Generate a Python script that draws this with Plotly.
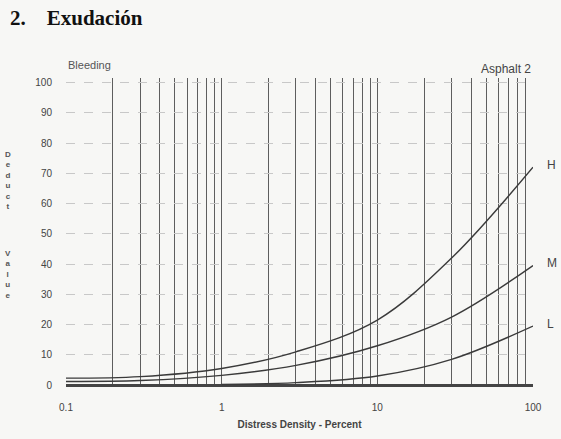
import plotly.graph_objects as go

# ---- data ----
density_hm = [0.1, 0.3, 1, 3, 10, 30, 100]
high = [2.3, 2.8, 5.5, 11.0, 21.5, 42.0, 72.0]
medium = [1.2, 1.5, 3.2, 6.5, 13.0, 22.5, 39.5]
density_l = [1, 3, 10, 30, 100]
low = [0.2, 0.8, 3.0, 8.5, 19.5]

severity_labels = ["H", "M", "L"]
severity_end = [72.0, 39.5, 19.5]

decades = [0.1, 1, 10]
decade_vals = [0.1, 1, 10, 100]
decade_labels = ["0.1", "1", "10", "100"]
y_ticks = list(range(0, 101, 10))

grid_x = [round(d * k, 3) for d in decades for k in range(1, 10)] + [100]
grid_text = [decade_labels[decade_vals.index(v)] if v in decade_vals else "" for v in grid_x]

line_col = "#3a3a3a"
text_col = "#444444"
bg = "#f7f7f5"

fig = go.Figure()
for xs, ys in [(density_hm, high), (density_hm, medium), (density_l, low)]:
    fig.add_trace(go.Scatter(x=xs, y=ys, mode="lines",
                             line=dict(color=line_col, width=1.4, shape="spline", smoothing=1.0),
                             hoverinfo="skip"))

fig.update_layout(
    width=561, height=439,
    margin=dict(l=66, r=28, t=78, b=53),
    paper_bgcolor=bg, plot_bgcolor=bg,
    showlegend=False,
    font=dict(family="Liberation Sans, Arial", color=text_col),
    xaxis=dict(
        type="log", range=[-1, 2],
        tickmode="array", tickvals=grid_x, ticktext=grid_text,
        showgrid=True, gridcolor="#5e5e5e", gridwidth=1.1,
        ticks="", showline=False, zeroline=False,
        tickfont=dict(size=10, color=text_col),
        ticklabelstandoff=14,
        title=dict(text="<b>Distress Density - Percent</b>", font=dict(size=10, color=text_col), standoff=8),
    ),
    yaxis=dict(
        range=[-0.3, 101.5],
        tickmode="array", tickvals=y_ticks,
        showgrid=True, gridcolor="#c8c8c8", gridwidth=1, griddash="dash",
        zeroline=True, zerolinecolor="#444444", zerolinewidth=2.5,
        ticks="", showline=False,
        tickfont=dict(size=10, color=text_col),
        ticklabelstandoff=13,
    ),
)

plot_top, plot_h, plot_left, plot_w = 78, 439 - 78 - 53, 66, 561 - 66 - 28
def ypaper(px):
    return 1 - (px - plot_top) / plot_h
def xpaper(px):
    return (px - plot_left) / plot_w

annotations = []
annotations.append(dict(text="<b>2.    Exudación</b>", xref="paper", yref="paper",
                        x=xpaper(8), y=ypaper(18), xanchor="left", yanchor="middle", showarrow=False,
                        font=dict(family="Liberation Serif, Times New Roman", size=21, color="#111111")))
annotations.append(dict(text="Bleeding", xref="paper", yref="paper", x=0.0, y=ypaper(65),
                        xanchor="left", yanchor="middle", showarrow=False,
                        font=dict(size=11, color="#555555")))
annotations.append(dict(text="Asphalt 2", xref="paper", yref="paper", x=1.0, y=ypaper(69),
                        xanchor="right", yanchor="middle", showarrow=False,
                        font=dict(size=12, color="#444444")))
for lab, yv in zip(severity_labels, severity_end):
    annotations.append(dict(text=lab, xref="paper", yref="y", x=xpaper(545), y=yv + 0.8,
                            xanchor="left", yanchor="middle", showarrow=False,
                            font=dict(size=12, color="#444444")))
annotations.append(dict(text="<br>".join("<b>" + c + "</b>" for c in "Deduct"), xref="paper", yref="paper",
                        x=xpaper(8), y=ypaper(180), xanchor="center", yanchor="middle", showarrow=False,
                        font=dict(size=8, color="#555555")))
annotations.append(dict(text="<br>".join("<b>" + c + "</b>" for c in "Value"), xref="paper", yref="paper",
                        x=xpaper(8), y=ypaper(274), xanchor="center", yanchor="middle", showarrow=False,
                        font=dict(size=8, color="#555555")))
fig.update_layout(annotations=annotations)

fig.write_html("out.html", config={"displayModeBar": False},
               post_script="document.body.style.margin='0';document.body.style.background='#f7f7f5';")
